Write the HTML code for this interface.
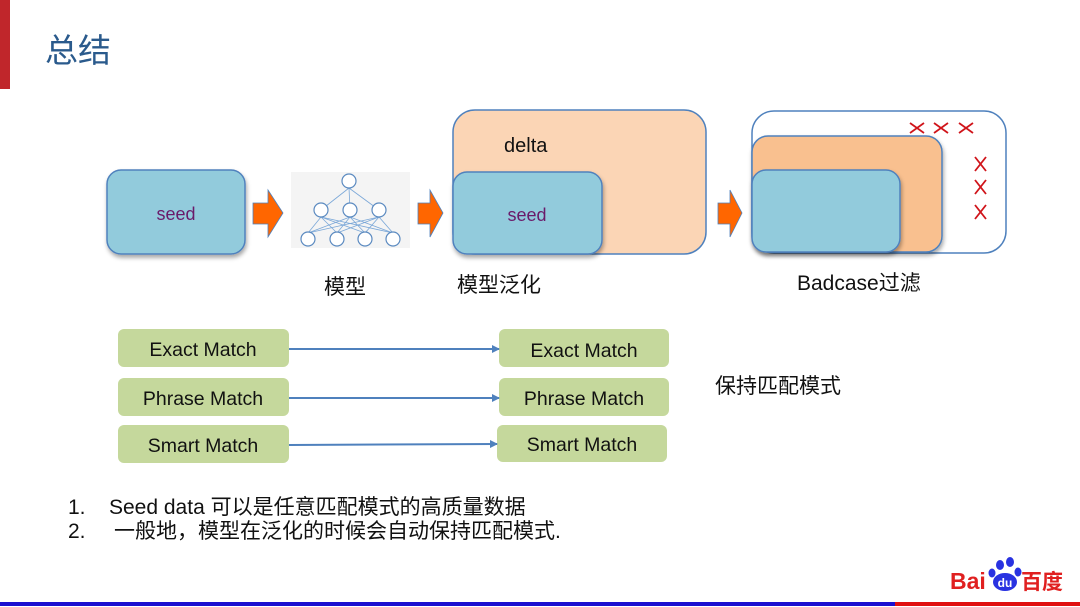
<!DOCTYPE html>
<html><head><meta charset="utf-8"><style>
body{margin:0;width:1080px;height:607px;background:#fff;overflow:hidden;font-family:"Liberation Sans","Noto Sans CJK SC",sans-serif;}
svg{position:absolute;left:0;top:0}
</style></head><body>
<svg width="1080" height="607" viewBox="0 0 1080 607" font-family="Liberation Sans, Noto Sans CJK SC, sans-serif">
<defs>
<filter id="sh" x="-10%" y="-10%" width="130%" height="130%"><feDropShadow dx="1" dy="3" stdDeviation="2" flood-color="#000" flood-opacity="0.35"/></filter>
<marker id="ah" markerWidth="8" markerHeight="8" refX="7" refY="4" orient="auto" markerUnits="userSpaceOnUse"><path d="M0,0 L8,4 L0,8 z" fill="#4f81bd"/></marker>
</defs>
<rect x="0" y="0" width="10" height="89" fill="#c0262b"/>
<text x="45" y="62" font-size="33" fill="#2a5a8c">总结</text>

<rect x="107" y="170" width="138" height="84" rx="14" fill="#92cbdc" stroke="#4f81bd" stroke-width="1.5" filter="url(#sh)"/>
<text x="176" y="220" font-size="18" fill="#6a1a6a" text-anchor="middle">seed</text>

<g fill="#ff6600" stroke="#4f81bd" stroke-width="0.8">
<path d="M253,203 L268,203 L268,190 L283,213 L268,237 L268,224 L253,224 z"/>
<path d="M418,203 L430,203 L430,190 L443,213 L430,237 L430,224 L418,224 z"/>
<path d="M718,203 L730,203 L730,190 L742,213 L730,237 L730,224 L718,224 z"/>
</g>

<rect x="291" y="172" width="119" height="76" fill="#f4f4f4"/>
<g stroke="#7aa7d8" stroke-width="0.8" fill="none">
<line x1="321" y1="210" x2="349" y2="188"/><line x1="350" y1="210" x2="349" y2="188"/><line x1="379" y1="210" x2="349" y2="188"/>
<line x1="308" y1="233" x2="321" y2="217"/><line x1="308" y1="233" x2="350" y2="217"/><line x1="308" y1="233" x2="379" y2="217"/>
<line x1="337" y1="233" x2="321" y2="217"/><line x1="337" y1="233" x2="350" y2="217"/><line x1="337" y1="233" x2="379" y2="217"/>
<line x1="365" y1="233" x2="321" y2="217"/><line x1="365" y1="233" x2="350" y2="217"/><line x1="365" y1="233" x2="379" y2="217"/>
<line x1="393" y1="233" x2="321" y2="217"/><line x1="393" y1="233" x2="350" y2="217"/><line x1="393" y1="233" x2="379" y2="217"/>
</g>
<g stroke="#5b8ac0" stroke-width="1.2" fill="#fff">
<circle cx="349" cy="181" r="7"/>
<circle cx="321" cy="210" r="7"/><circle cx="350" cy="210" r="7"/><circle cx="379" cy="210" r="7"/>
<circle cx="308" cy="239" r="7"/><circle cx="337" cy="239" r="7"/><circle cx="365" cy="239" r="7"/><circle cx="393" cy="239" r="7"/>
</g>
<text x="345" y="294" font-size="21" fill="#111" text-anchor="middle">模型</text>

<rect x="453" y="110" width="253" height="144" rx="22" fill="#fbd5b5" stroke="#4f81bd" stroke-width="1.5"/>
<text x="504" y="152" font-size="20" fill="#111">delta</text>
<rect x="453" y="172" width="149" height="82" rx="14" fill="#92cbdc" stroke="#4f81bd" stroke-width="1.5" filter="url(#sh)"/>
<text x="527" y="221" font-size="18" fill="#6a1a6a" text-anchor="middle">seed</text>
<text x="457" y="292" font-size="21" fill="#111">模型泛化</text>

<rect x="752" y="111" width="254" height="142" rx="22" fill="#fff" stroke="#4f81bd" stroke-width="1.5"/>
<rect x="752" y="136" width="190" height="116" rx="16" fill="#f9c08f" stroke="#4f81bd" stroke-width="1.5" filter="url(#sh)"/>
<rect x="752" y="170" width="148" height="82" rx="14" fill="#92cbdc" stroke="#4f81bd" stroke-width="1.5" filter="url(#sh)"/>
<g stroke="#d0141a" stroke-width="1.8">
<path d="M910,123 L924,133 M924,123 L910,133"/>
<path d="M934,123 L948,133 M948,123 L934,133"/>
<path d="M959,123 L973,133 M973,123 L959,133"/>
<path d="M975,157 L986,171 M986,157 L975,171"/>
<path d="M975,180 L986,194 M986,180 L975,194"/>
<path d="M975,205 L986,219 M986,205 L975,219"/>
</g>
<text x="797" y="290" font-size="21" fill="#111">Badcase过滤</text>

<g fill="#c5d89c">
<rect x="118" y="329" width="171" height="38" rx="6"/><rect x="118" y="378" width="171" height="38" rx="6"/><rect x="118" y="425" width="171" height="38" rx="6"/>
<rect x="499" y="329" width="170" height="38" rx="6"/><rect x="499" y="378" width="170" height="38" rx="6"/><rect x="497" y="425" width="170" height="37" rx="6"/>
</g>
<g font-size="19.5" fill="#111" text-anchor="middle">
<text x="203" y="356">Exact Match</text><text x="203" y="405">Phrase Match</text><text x="203" y="452">Smart Match</text>
<text x="584" y="357">Exact Match</text><text x="584" y="405">Phrase Match</text><text x="582" y="451">Smart Match</text>
</g>
<g stroke="#4f81bd" stroke-width="2" marker-end="url(#ah)">
<line x1="289" y1="349" x2="499" y2="349"/><line x1="289" y1="398" x2="499" y2="398"/><line x1="289" y1="445" x2="497" y2="444"/>
</g>
<text x="715" y="393" font-size="21" fill="#111">保持匹配模式</text>

<text x="68" y="514" font-size="21" fill="#111">1.</text>
<text x="109" y="514" font-size="21" fill="#111">Seed data 可以是任意匹配模式的高质量数据</text>
<text x="68" y="538" font-size="21" fill="#111">2.</text>
<text x="114" y="538" font-size="21" fill="#111">一般地，模型在泛化的时候会自动保持匹配模式.</text>

<text x="950" y="589" font-size="23" font-weight="bold" fill="#e02020">Bai</text>
<g fill="#2932e1">
<ellipse cx="1000" cy="565" rx="4" ry="5"/><ellipse cx="1010" cy="562" rx="4" ry="5"/><ellipse cx="992" cy="573" rx="3.5" ry="4.5"/><ellipse cx="1018" cy="572" rx="3.5" ry="4.5"/>
<ellipse cx="1005" cy="582" rx="12" ry="9"/>
</g>
<text x="1005" y="587" font-size="12" font-weight="bold" fill="#fff" text-anchor="middle">du</text>
<text x="1021" y="589" font-size="21" font-weight="bold" fill="#e02020">百度</text>

<rect x="0" y="602" width="895" height="4" fill="#1a0fd0"/>
<rect x="895" y="602" width="185" height="4" fill="#e01010"/>
</svg>
</body></html>
